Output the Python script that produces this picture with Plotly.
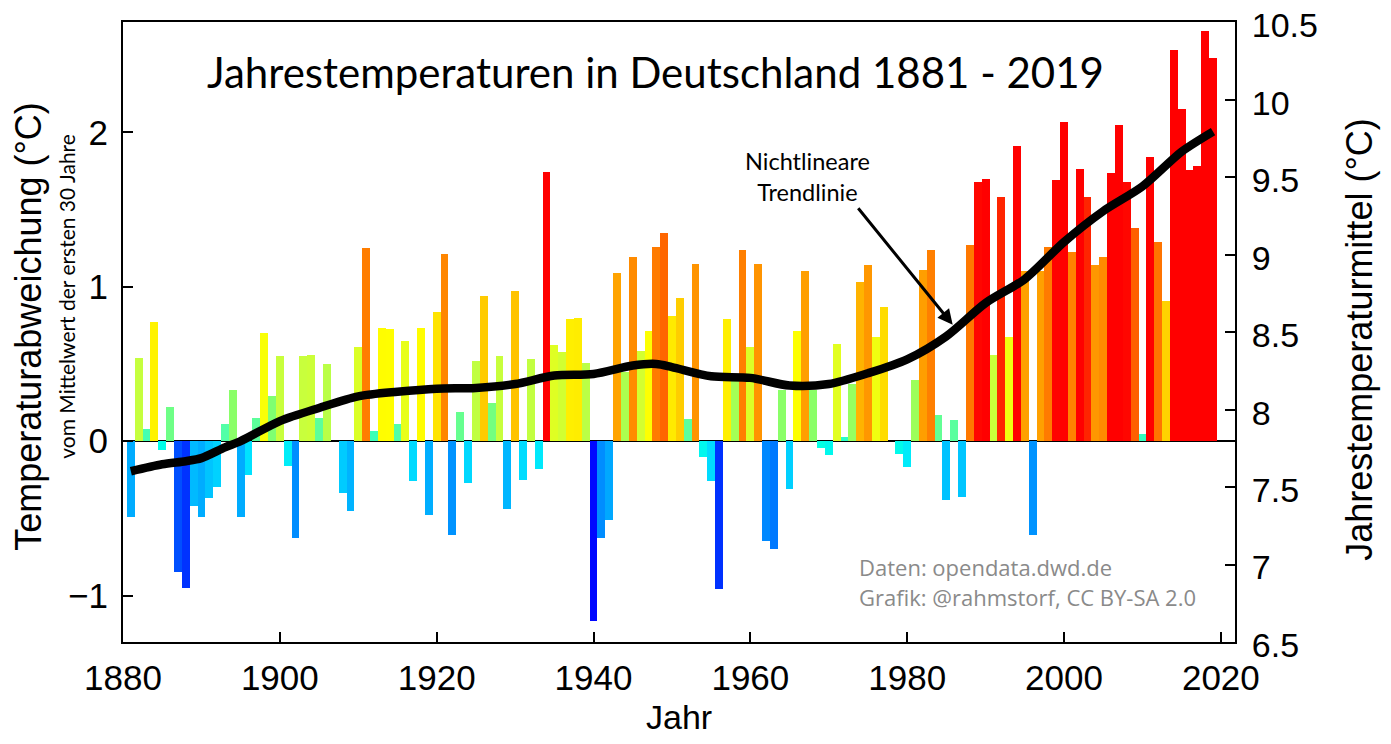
import plotly.graph_objects as go

years = list(range(1881, 2020))
anomaly = [
    -0.49, 0.54, 0.08, 0.77, -0.06, 0.22, -0.85, -0.95, -0.42, -0.49,   # 1881-1890
    -0.37, -0.30, 0.11, 0.33, -0.49, -0.22, 0.15, 0.70, 0.29, 0.55,     # 1891-1900
    -0.16, -0.63, 0.55, 0.56, 0.15, 0.50, 0.00, -0.335, -0.455, 0.61,   # 1901-1910
    1.25, 0.065, 0.73, 0.725, 0.11, 0.65, -0.26, 0.73, -0.48, 0.835,    # 1911-1920
    1.21, -0.61, 0.19, -0.27, 0.52, 0.94, 0.245, 0.55, -0.44, 0.97,     # 1921-1930
    -0.25, 0.53, -0.18, 1.745, 0.62, 0.58, 0.79, 0.80, 0.505, -1.165,   # 1931-1940
    -0.63, -0.51, 1.09, 0.45, 1.19, 0.585, 0.715, 1.26, 1.35, 0.81,     # 1941-1950
    0.93, 0.145, 1.15, -0.10, -0.255, -0.955, 0.79, 0.42, 1.24, 0.61,   # 1951-1960
    1.15, -0.645, -0.70, 0.33, -0.31, 0.715, 1.105, 0.33, -0.045, -0.09,  # 1961-1970
    0.63, 0.027, 0.37, 1.03, 1.14, 0.675, 0.87, 0.0, -0.08, -0.17,      # 1971-1980
    0.395, 1.11, 1.24, 0.17, -0.38, 0.14, -0.36, 1.27, 1.68, 1.70,      # 1981-1990
    0.555, 1.58, 0.675, 1.91, 1.10, -0.61, 1.10, 1.26, 1.69, 2.07,      # 1991-2000
    1.225, 1.76, 1.58, 1.14, 1.19, 1.74, 2.05, 1.68, 1.38, 0.045,       # 2001-2010
    1.84, 1.29, 0.91, 2.535, 2.15, 1.755, 1.785, 2.655, 2.48,           # 2011-2019
]

trend_years = [1881, 1885, 1888, 1890, 1893, 1895, 1900, 1905, 1910, 1915,
               1920, 1925, 1930, 1935, 1940, 1945, 1948, 1950, 1955, 1960,
               1965, 1970, 1975, 1980, 1985, 1990, 1995, 2000, 2005, 2010,
               2015, 2019]
trend_values = [-0.195, -0.15, -0.13, -0.11, -0.04, 0.0, 0.13, 0.215, 0.29, 0.32,
                0.34, 0.345, 0.37, 0.425, 0.435, 0.49, 0.50, 0.48, 0.42, 0.41,
                0.36, 0.37, 0.44, 0.53, 0.68, 0.895, 1.05, 1.29, 1.49, 1.65,
                1.875, 2.005]

x_ticks = [1880, 1900, 1920, 1940, 1960, 1980, 2000, 2020]
left_ticks = [-1, 0, 1, 2]
right_ticks = [6.5, 7, 7.5, 8, 8.5, 9, 9.5, 10, 10.5]
right_tick_text = ["6.5", "7", "7.5", "8", "8.5", "9", "9.5", "10", "10.5"]

title_text = "Jahrestemperaturen in Deutschland 1881 - 2019"
left_title = "Temperaturabweichung (°C)"
left_subtitle = "vom Mittelwert der ersten 30 Jahre"
right_title = "Jahrestemperaturmittel (°C)"
x_title = "Jahr"
trend_label = "Nichtlineare<br>Trendlinie"
source_lines = ["Daten: opendata.dwd.de", "Grafik: @rahmstorf, CC BY-SA 2.0"]

cmin, cmax = -1.2, 1.7
stops = [(-1.2, "rgb(0,0,255)"), (-0.95, "rgb(0,50,255)"), (-0.6, "rgb(0,150,255)"),
         (-0.4, "rgb(0,190,255)"), (-0.2, "rgb(0,230,255)"), (-0.05, "rgb(0,255,230)"),
         (0.1, "rgb(80,255,170)"), (0.3, "rgb(130,255,110)"), (0.55, "rgb(200,255,60)"),
         (0.72, "rgb(255,255,0)"), (0.85, "rgb(255,225,0)"), (0.95, "rgb(255,200,0)"),
         (1.1, "rgb(255,160,0)"), (1.25, "rgb(255,125,0)"), (1.4, "rgb(255,90,0)"),
         (1.6, "rgb(255,30,0)"), (1.7, "rgb(255,0,0)")]
colorscale = [[(v - cmin) / (cmax - cmin), c] for v, c in stops]

AX_FONT = "Arial, Liberation Sans, sans-serif"
CAL_FONT = "Lato, Open Sans, sans-serif"

fig = go.Figure()
fig.add_trace(go.Bar(
    x=years, y=anomaly, width=1.0,
    marker=dict(color=anomaly, colorscale=colorscale, cmin=cmin, cmax=cmax,
                line=dict(width=0)),
    showlegend=False, hoverinfo="x+y",
))
fig.add_trace(go.Scatter(
    x=trend_years, y=trend_values, mode="lines",
    line=dict(color="black", width=8.5, shape="spline", smoothing=0.8),
    showlegend=False,
))
fig.add_trace(go.Scatter(x=[years[0]], y=[right_ticks[0]], yaxis="y2", mode="markers",
                         marker=dict(opacity=0), showlegend=False, hoverinfo="skip"))

# page has an 8px body margin; target plot box in page pixels
OFF = 8
P_LEFT, P_RIGHT, P_TOP, P_BOTTOM = 123, 1235, 22, 642.5
W, H = 1391 - 2 * OFF, 744 - 2 * OFF
L = P_LEFT - OFF
T = P_TOP - OFF
R = W - (P_RIGHT - OFF)
B = H - (P_BOTTOM - OFF)


def px(xp):
    return (xp - P_LEFT) / (P_RIGHT - P_LEFT)


def py(yp):
    return (P_BOTTOM - yp) / (P_BOTTOM - P_TOP)


fig.update_layout(
    width=W, height=H,
    margin=dict(l=L, r=R, t=T, b=B, autoexpand=False),
    plot_bgcolor="white", paper_bgcolor="white",
    bargap=0,
    xaxis=dict(range=[1880, 2021.8], tickvals=x_ticks, ticks="inside", ticklen=10,
               tickwidth=2, tickcolor="black", showline=True, linewidth=2,
               linecolor="black", mirror=True, showgrid=False, zeroline=False,
               tickfont=dict(family=AX_FONT, size=35, color="black"),
               ticklabelstandoff=4, ticklabeloverflow="allow"),
    yaxis=dict(range=[-1.301, 2.715], tickvals=left_ticks, ticks="inside", ticklen=10,
               tickwidth=2, tickcolor="black", showline=True, linewidth=2,
               linecolor="black", showgrid=False, zeroline=True, zerolinecolor="black",
               zerolinewidth=2, tickfont=dict(family=AX_FONT, size=35, color="black"),
               ticklabelstandoff=6, ticklabeloverflow="allow"),
    yaxis2=dict(range=[6.5, 10.503], tickvals=right_ticks, ticktext=right_tick_text,
                overlaying="y", side="right", ticks="inside", ticklen=10, tickwidth=2,
                tickcolor="black", showline=True, linewidth=2, linecolor="black",
                showgrid=False, zeroline=False,
                tickfont=dict(family=AX_FONT, size=34, color="black"),
                ticklabelstandoff=8, ticklabelshift=3, ticklabeloverflow="allow"),
)


def centered(text, x, y, size, family, angle=0, color="black"):
    return dict(text=text, xref="paper", yref="paper", x=px(x), y=py(y),
                xanchor="center", yanchor="middle", textangle=angle, showarrow=False,
                font=dict(family=family, size=size, color=color))


ann = [
    centered(title_text, 655, 72, 42, CAL_FONT),
    centered(left_title, 29, 327, 36, AX_FONT, angle=-90),
    centered(left_subtitle, 67, 297, 21, CAL_FONT, angle=-90),
    centered(right_title, 1360, 340, 36, AX_FONT, angle=-90),
    centered(x_title, 679, 718, 34, AX_FONT),
    centered(trend_label, 808, 177, 23.5, CAL_FONT),
]
# arrow from label to trend line
ann.append(dict(text="", x=1985.8, y=0.754, xref="x", yref="y",
                ax=1973.6, ay=1.518, axref="x", ayref="y",
                showarrow=True, arrowhead=2, arrowsize=1.0, arrowwidth=3,
                arrowcolor="black"))
for i, line in enumerate(source_lines):
    ann.append(dict(text=line, xref="paper", yref="paper", x=px(857), y=py(567 + 30 * i),
                    xanchor="left", yanchor="middle", showarrow=False,
                    font=dict(family="Open Sans, sans-serif", size=22, color="#8a8a8a")))
fig.update_layout(annotations=ann)

fig.write_html("out.html")
